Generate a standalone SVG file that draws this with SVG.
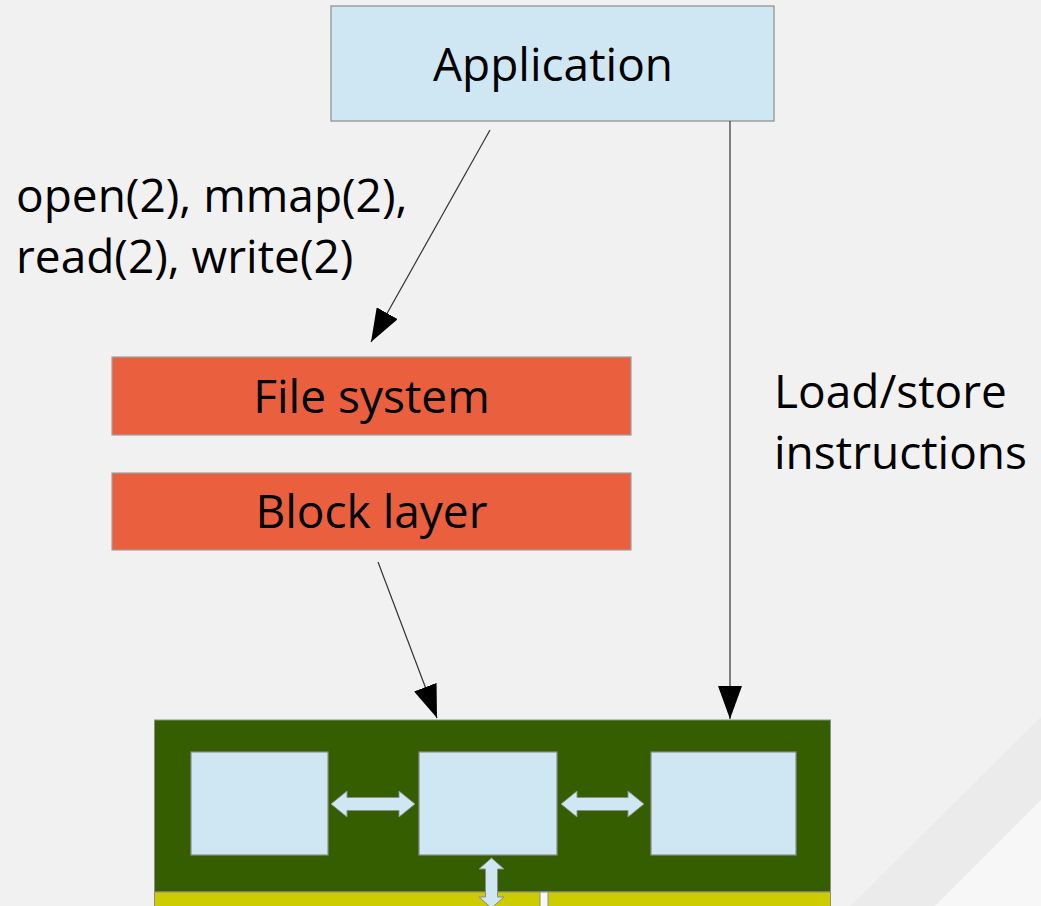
<svg xmlns="http://www.w3.org/2000/svg" width="1041" height="906" viewBox="0 0 1041 906">
<defs>
<marker id="ah" markerWidth="34" markerHeight="24" refX="33" refY="12" orient="auto" markerUnits="userSpaceOnUse">
<path d="M0,0 L33,12 L0,24 Z" fill="#000"/>
</marker>
<style>
.t{font-family:"Open Sans","Noto Sans",sans-serif;font-size:46px;fill:#000}
.lb{fill:#cfe6f3;stroke:#8c8c8c;stroke-width:1.2}
.or{fill:#ea603f;stroke:#a0a0a0;stroke-width:1.2}
.ln{stroke:#333;stroke-width:1.2;fill:none}
.dbl{fill:#cfe6f3;stroke:#8c8c8c;stroke-width:1}
</style>
</defs>
<rect width="1041" height="906" fill="#f1f1f1"/>
<polygon points="1041,717 1041,906 850,906" fill="#ebebeb"/>
<polygon points="1041,800 1041,906 935,906" fill="#f7f7f7"/>

<g id="application">
<rect class="lb" x="331" y="6" width="443" height="115"/>
<text class="t" x="553" y="81" text-anchor="middle">Application</text>
</g>
<g id="syscall-label">
<text class="t" x="16" y="212">open(2), mmap(2),</text>
<text class="t" x="16" y="273">read(2), write(2)</text>
</g>
<g id="loadstore-label">
<text class="t" x="774" y="408">Load/store</text>
<text class="t" x="774" y="469">instructions</text>
</g>
<g id="filesystem">
<rect class="or" x="112" y="357" width="519" height="78"/>
<text class="t" x="371.5" y="413" text-anchor="middle">File system</text>
</g>
<g id="blocklayer">
<rect class="or" x="112" y="473" width="519" height="77"/>
<text class="t" x="371.5" y="528" text-anchor="middle">Block layer</text>
</g>
<g id="device">
<rect x="154.5" y="720" width="676" height="172" fill="#355e00" stroke="#8c8c8c" stroke-width="1"/>
<rect x="154.5" y="892" width="676" height="20" fill="#cccc00" stroke="#8c8c8c" stroke-width="1"/>
<rect x="540" y="892" width="8" height="20" fill="#f7f7f7" stroke="#8c8c8c" stroke-width="1"/>
<rect class="lb" x="191" y="752" width="137" height="103"/>
<rect class="lb" x="419" y="752" width="138" height="103"/>
<rect class="lb" x="651" y="752" width="145" height="103"/>
<polygon class="dbl" points="331,804 347,791 347,797.5 399,797.5 399,791 415,804 399,817 399,810.5 347,810.5 347,817"/>
<polygon class="dbl" points="561,804 577,791 577,797.5 628,797.5 628,791 644,804 628,817 628,810.5 577,810.5 577,817"/>
<polygon class="dbl" points="491.5,858 504,869 497.5,869 497.5,897 504,897 491.5,908 479,897 485.5,897 485.5,869 479,869"/>
</g>
<g id="connectors">
<line class="ln" x1="490" y1="130" x2="371" y2="342" marker-end="url(#ah)"/>
<line class="ln" x1="730" y1="121" x2="730" y2="719" stroke="#555" marker-end="url(#ah)"/>
<line class="ln" x1="378" y1="562" x2="437" y2="718" marker-end="url(#ah)"/>
</g>
</svg>
